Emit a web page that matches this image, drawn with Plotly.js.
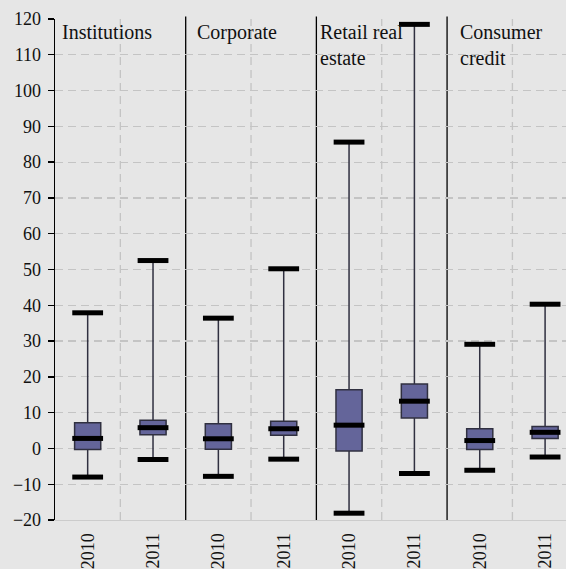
<!DOCTYPE html>
<html>
<head>
<meta charset="utf-8">
<script src="https://cdn.plot.ly/plotly-3.0.1.min.js"></script>
<style>html,body{margin:0;padding:0;background:#e6e6e6;overflow:hidden}</style>
</head>
<body>
<div id="chart" style="width:566px;height:569px"></div>
<script>
// ---- data ----
const categories = ['2010', '2011', '2010', '2011', '2010', '2011', '2010', '2011'];
const groups = ['Institutions', 'Corporate', 'Retail real<br>estate', 'Consumer<br>credit'];
const lowerWhisker = [-8.0, -3.1, -7.8, -3.0, -18.1, -7.0, -6.1, -2.4];
const q1Values     = [-0.3, 3.8, -0.2, 3.7, -0.7, 8.5, -0.3, 2.8];
const medianValues = [2.8, 5.8, 2.7, 5.5, 6.5, 13.2, 2.2, 4.5];
const q3Values     = [7.2, 7.9, 6.9, 7.6, 16.4, 18.0, 5.5, 6.1];
const upperWhisker = [37.9, 52.5, 36.4, 50.2, 85.6, 118.5, 29.1, 40.3];

const xs = categories.map((_, i) => i);
const serif = 'Liberation Serif';

const boxTrace = {
  type: 'box',
  x: xs,
  q1: q1Values,
  median: medianValues,
  q3: q3Values,
  lowerfence: lowerWhisker,
  upperfence: upperWhisker,
  width: 0.4,
  whiskerwidth: 0,
  fillcolor: '#64659a',
  line: { color: '#303040', width: 1.5 },
  hoverinfo: 'skip'
};

const capStyle = { symbol: 'line-ew', size: 22, color: '#000', line: { color: '#000', width: 5 } };
const capTrace = {
  type: 'scatter', mode: 'markers',
  x: xs.concat(xs),
  y: lowerWhisker.concat(upperWhisker),
  marker: capStyle, hoverinfo: 'skip'
};
const medianTrace = {
  type: 'scatter', mode: 'markers',
  x: xs, y: medianValues,
  marker: capStyle, hoverinfo: 'skip'
};

const shapes = [];
[1.5, 3.5, 5.5].forEach(v => shapes.push({
  type: 'line', xref: 'x', yref: 'paper', x0: v, x1: v, y0: 0, y1: 1.005,
  line: { color: '#000', width: 1.3 }, layer: 'below'
}));
[0.5, 2.5, 4.5, 6.5].forEach(v => shapes.push({
  type: 'line', xref: 'x', yref: 'paper', x0: v, x1: v, y0: 0, y1: 1,
  line: { color: '#c4c4c4', width: 1.3, dash: '8px,5px' }, layer: 'below'
}));

const labelX = [-0.43, 1.65, 3.53, 5.67];
const annotations = groups.map((g, i) => ({
  text: g, x: labelX[i], xref: 'x', y: 1, yref: 'paper',
  xanchor: 'left', yanchor: 'top', align: 'left', showarrow: false,
  font: { family: serif, size: 20, color: '#111' }
}));

const layout = {
  width: 566, height: 569,
  margin: { l: 55, r: 0, t: 19, b: 49, pad: 0 },
  font: { family: serif, size: 18, color: '#111' },
  paper_bgcolor: '#e6e6e6',
  plot_bgcolor: '#e6e6e6',
  showlegend: false,
  xaxis: {
    range: [-0.5, 7.32],
    tickmode: 'array', tickvals: xs, ticktext: categories,
    tickangle: -90, ticks: '', ticklabelstandoff: 5,
    showgrid: false, zeroline: false,
    showline: true, linecolor: '#cccccc', linewidth: 1,
    tickfont: { family: serif, size: 18, color: '#111' }
  },
  yaxis: {
    range: [-20, 120], tick0: 0, dtick: 10,
    showgrid: true, gridcolor: '#c4c4c4', gridwidth: 1.2, griddash: '8px,5px',
    zeroline: false, showline: true, linecolor: '#000', linewidth: 1.3,
    ticks: 'outside', ticklen: 6, tickcolor: '#000', tickwidth: 1.3,
    ticklabelstandoff: 3,
    tickfont: { family: serif, size: 18, color: '#111' }
  },
  shapes: shapes,
  annotations: annotations
};

Plotly.newPlot('chart', [boxTrace, capTrace, medianTrace], layout, { displayModeBar: false, staticPlot: true });
</script>
</body>
</html>
